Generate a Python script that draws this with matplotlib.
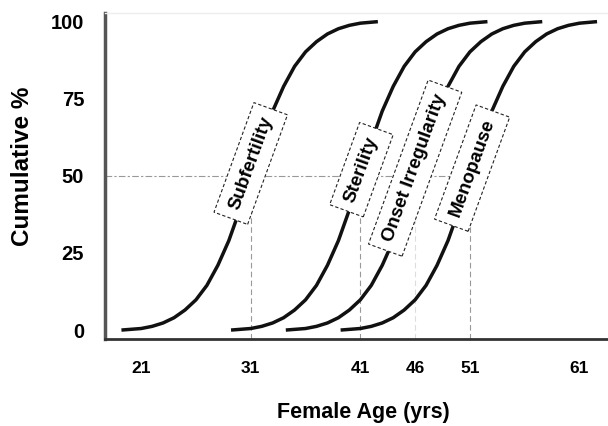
import matplotlib
matplotlib.use("Agg")
import matplotlib.pyplot as plt

plt.rcParams['font.family'] = ['Liberation Sans', 'DejaVu Sans']
plt.rcParams['font.weight'] = 'bold'

# cumulative percentage shared by the four curves
pct = [0, 0.5, 1.2, 2.3, 4, 6.5, 9.8, 14.5, 21, 29, 39, 50,
       61, 71, 79, 85.5, 90.2, 93.5, 96, 97.7, 98.8, 99.5, 100]

subfert_age = [19.2, 21, 22, 23, 24, 25, 26, 27, 28, 29, 30, 31,
               32, 33, 34, 35, 36, 37, 38, 39, 40, 41, 42.6]
steril_age = [29.2, 31, 32, 33, 34, 35, 36, 37, 38, 39, 40, 41,
              42, 43, 44, 45, 46, 47, 48, 49, 50, 51, 52.6]
onset_age = [34.2, 36, 37, 38, 39, 40, 41, 42, 43, 44, 45, 46,
             47, 48, 49, 50, 51, 52, 53, 54, 55, 56, 57.6]
meno_age = [39.2, 41, 42, 43, 44, 45, 46, 47, 48, 49, 50, 51,
            52, 53, 54, 55, 56, 57, 58, 59, 60, 61, 62.6]

curves = [subfert_age, steril_age, onset_age, meno_age]
labels = ["Subfertility", "Sterility", "Onset Irregularity", "Menopause"]
label_pos = [(31, 54), (41.1, 52), (46, 52.5), (51.2, 52.5)]

mid_ages = [31, 41, 46, 51]
xticks = [21, 31, 41, 46, 51, 61]
yticks = [0, 25, 50, 75, 100]

fig = plt.figure(figsize=(6.08, 4.26), dpi=100)
ax = fig.add_axes([105/608, 87/426, 503/608, 326/426])

x0, x1 = 17.7, 63.6
ax.set_xlim(x0, x1)
ax.set_ylim(-2.9, 102.8)

# 50% guide lines
ax.plot([x0, mid_ages[-1]], [50, 50], color='#999999', lw=0.8,
        ls=(0, (6, 2, 2, 2)), zorder=1)
for a in mid_ages:
    c = '#dddddd' if a == 46 else '#999999'
    ax.plot([a, a], [-2.9, 50], color=c, lw=0.8, ls=(0, (5, 3)), zorder=1)

for ages in curves:
    ax.plot(ages, pct, color='#111111', lw=2.5, solid_capstyle='butt', zorder=2)

for lab, (lx, ly) in zip(labels, label_pos):
    ax.text(lx, ly, lab, rotation=70, ha='center', va='center', fontsize=13.5,
            rotation_mode='anchor', zorder=5,
            bbox=dict(boxstyle='square,pad=0.5', fc='white', ec='#222222',
                      lw=0.8, ls=(0, (3, 2))))

ax.set_xticks(xticks)
ax.set_yticks(yticks)
ax.tick_params(axis='x', length=0, pad=16, labelsize=12.5)
ax.tick_params(axis='y', length=0, pad=15, labelsize=14.5)

ax.spines['right'].set_visible(False)
ax.spines['top'].set_color('#eeeeee')
ax.spines['top'].set_linewidth(1)
ax.spines['left'].set_color('#555555')
ax.spines['left'].set_linewidth(2.5)
ax.spines['bottom'].set_color('#333333')
ax.spines['bottom'].set_linewidth(2)

ax.set_xlabel("Female Age (yrs)", fontsize=15.5, fontweight='bold', va='center')
ax.xaxis.set_label_coords(0.513, -0.224)
ax.set_ylabel("Cumulative %", fontsize=17.5, fontweight='bold', va='center')
ax.yaxis.set_label_coords(-0.165, 0.53)

fig.savefig("out.png", dpi=100)
